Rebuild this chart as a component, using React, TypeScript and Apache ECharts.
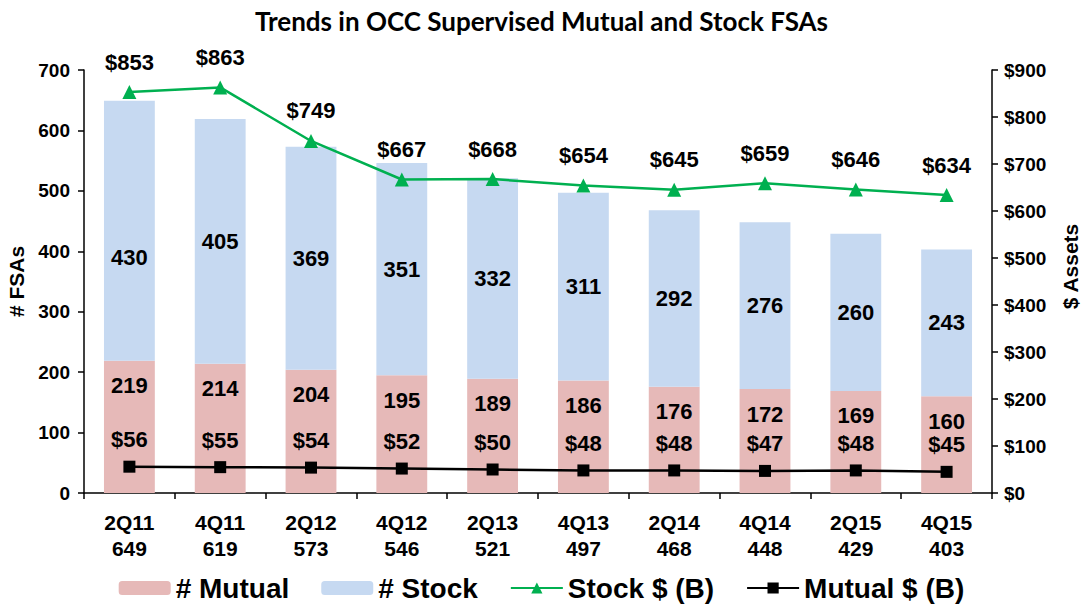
import React, { useEffect, useRef } from "react";
import * as echarts from "echarts";

const quarters = ["2Q11", "4Q11", "2Q12", "4Q12", "2Q13", "4Q13", "2Q14", "4Q14", "2Q15", "4Q15"];
const totals = [649, 619, 573, 546, 521, 497, 468, 448, 429, 403];
const mutualCount = [219, 214, 204, 195, 189, 186, 176, 172, 169, 160];
const stockCount = [430, 405, 369, 351, 332, 311, 292, 276, 260, 243];
const stockAssets = [853, 863, 749, 667, 668, 654, 645, 659, 646, 634];
const mutualAssets = [56, 55, 54, 52, 50, 48, 48, 47, 48, 45];
const leftTicks = [0, 100, 200, 300, 400, 500, 600, 700];
const rightTicks = [0, 100, 200, 300, 400, 500, 600, 700, 800, 900];

const FONT = "'Liberation Sans', Arial, sans-serif";

export default function App() {
  const ref = useRef<HTMLDivElement>(null);
  useEffect(() => {
    if (!ref.current) return;
    const chart = echarts.init(ref.current, null, { renderer: "svg" });
    const categories = quarters.map((q, i) => `${q}\n${totals[i]}`);
    const lblBase = { fontFamily: FONT, fontWeight: "bold" as const, fontSize: 22, color: "#000" };
    chart.setOption({
      animation: false,
      backgroundColor: "#fff",
      title: {
        text: "Trends in OCC Supervised Mutual and Stock FSAs",
        left: "center",
        top: 3,
        textStyle: { fontFamily: "Lato, 'Open Sans', sans-serif", fontWeight: "bold", fontSize: 26, color: "#000" },
      },
      legend: {
        bottom: 0,
        left: "center",
        itemWidth: 52,
        itemHeight: 14,
        itemGap: 32,
        textStyle: { fontFamily: FONT, fontWeight: "bold", fontSize: 28, color: "#000" },
        data: ["# Mutual", "# Stock", "Stock $ (B)", "Mutual $ (B)"],
      },
      grid: { left: 84, right: 91, top: 70, bottom: 114, outerBoundsMode: "none", containLabel: false },
      xAxis: {
        type: "category",
        data: categories,
        axisLine: { lineStyle: { color: "#000", width: 1.5 } },
        axisTick: { show: true, alignWithLabel: false, length: 6, lineStyle: { color: "#000", width: 1.5 } },
        axisLabel: { fontFamily: FONT, fontWeight: "bold", fontSize: 21, color: "#000", lineHeight: 26, margin: 16 },
      },
      yAxis: [
        {
          type: "value",
          min: 0,
          max: 700,
          interval: 100,
          name: "# FSAs",
          nameLocation: "middle",
          nameGap: 56,
          nameTextStyle: { fontFamily: FONT, fontWeight: "bold", fontSize: 21, color: "#000" },
          axisLine: { show: true, lineStyle: { color: "#000", width: 1.5 } },
          axisTick: { show: true, length: 6, lineStyle: { color: "#000", width: 1.5 } },
          axisLabel: {
            fontFamily: FONT, fontWeight: "bold", fontSize: 19, color: "#000", margin: 14,
            formatter: (v: number) => (leftTicks.includes(v) ? String(v) : ""),
          },
          splitLine: { show: false },
        },
        {
          type: "value",
          min: 0,
          max: 900,
          interval: 100,
          position: "right",
          name: "$ Assets",
          nameLocation: "middle",
          nameGap: 68,
          nameRotate: 90,
          nameTextStyle: { fontFamily: FONT, fontWeight: "bold", fontSize: 21, color: "#000", padding: [0, 0, 0, 30] },
          axisLine: { show: true, lineStyle: { color: "#000", width: 1.5 } },
          axisTick: { show: true, length: 6, lineStyle: { color: "#000", width: 1.5 } },
          axisLabel: {
            fontFamily: FONT, fontWeight: "bold", fontSize: 19, color: "#000", margin: 12,
            formatter: (v: number) => (rightTicks.includes(v) ? `$${v}` : ""),
          },
          splitLine: { show: false },
        },
      ],
      series: [
        {
          name: "# Mutual",
          type: "bar",
          stack: "fsa",
          barWidth: "56%",
          data: mutualCount,
          itemStyle: { color: "#E6B9B8" },
          label: { show: true, position: "insideTop", distance: 14, ...lblBase },
        },
        {
          name: "# Stock",
          type: "bar",
          stack: "fsa",
          barWidth: "56%",
          data: stockCount.map((v, i) => (i === 0 ? { value: v, label: { offset: [0, 27] } } : v)),
          itemStyle: { color: "#C6D9F1" },
          label: { show: true, position: "inside", ...lblBase },
        },
        {
          name: "Stock $ (B)",
          type: "line",
          yAxisIndex: 1,
          data: stockAssets,
          symbol: "triangle",
          symbolSize: 14,
          lineStyle: { color: "#00B050", width: 2.5 },
          itemStyle: { color: "#00B050" },
          label: { show: true, position: "top", distance: 12, formatter: (p: any) => `$${p.value}`, ...lblBase },
          z: 5,
        },
        {
          name: "Mutual $ (B)",
          type: "line",
          yAxisIndex: 1,
          data: mutualAssets,
          symbol: "rect",
          symbolSize: 12,
          lineStyle: { color: "#000", width: 2.5 },
          itemStyle: { color: "#000" },
          label: { show: true, position: "top", distance: 10, formatter: (p: any) => `$${p.value}`, ...lblBase },
          z: 5,
        },
      ],
    });
    return () => chart.dispose();
  }, []);
  return <div ref={ref} style={{ position: "fixed", left: 0, top: 0, width: 1083, height: 607 }} />;
}
